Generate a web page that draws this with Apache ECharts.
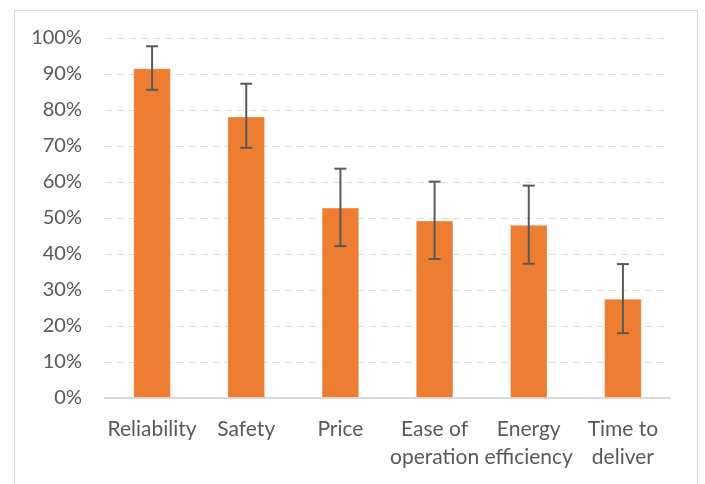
<!DOCTYPE html>
<html>
<head>
<meta charset="utf-8">
<script src="https://cdn.jsdelivr.net/npm/echarts@6/dist/echarts.min.js"></script>
<style>
html,body{margin:0;padding:0;background:#fff;}
#frame{position:absolute;left:14px;top:10px;width:684px;height:490px;border:1px solid #d9d9d9;box-sizing:border-box;}
#chart{position:absolute;left:0;top:0;width:705px;height:484px;}
</style>
</head>
<body>
<div id="frame"></div>
<div id="chart"></div>
<script>
const categories = ['Reliability', 'Safety', 'Price', 'Ease of\noperation', 'Energy\nefficiency', 'Time to\ndeliver'];
const values = [91.6, 78.2, 52.9, 49.3, 48.1, 27.6];
const errLow = [85.6, 69.5, 42.2, 38.6, 37.3, 18.0];
const errHigh = [97.7, 87.3, 63.7, 60.1, 59.0, 37.2];
const yTicks = [0, 10, 20, 30, 40, 50, 60, 70, 80, 90, 100];

const chart = echarts.init(document.getElementById('chart'), null, {renderer: 'canvas'});
const FONT = 'Lato';
chart.setOption({
  animation: false,
  grid: {left: 105, right: 35, top: 38, bottom: 86},
  xAxis: {
    type: 'category',
    data: categories,
    axisLine: {lineStyle: {color: '#d9d9d9', width: 2}},
    axisTick: {show: false},
    axisLabel: {interval: 0, color: '#595959', fontFamily: FONT, fontSize: 21, lineHeight: 28, margin: 17}
  },
  yAxis: {
    type: 'value',
    min: yTicks[0], max: yTicks[yTicks.length - 1], interval: 10,
    axisLine: {show: false},
    axisTick: {show: false},
    splitLine: {lineStyle: {color: '#dedede', type: [7, 5], width: 1}},
    axisLabel: {color: '#595959', fontFamily: FONT, fontSize: 20, margin: 23, formatter: v => v + '%'}
  },
  series: [
    {
      type: 'bar',
      data: values,
      barWidth: '40%',
      itemStyle: {color: '#ED7D31', borderColor: 'rgba(255,255,255,0.35)', borderWidth: 1}
    },
    {
      type: 'custom',
      data: categories.map((c, i) => [i, errLow[i], errHigh[i]]),
      z: 10,
      renderItem: function (params, api) {
        const lo = api.coord([api.value(0), api.value(1)]);
        const hi = api.coord([api.value(0), api.value(2)]);
        const hw = 6;
        const st = {stroke: '#595959', lineWidth: 2};
        return {
          type: 'group',
          children: [
            {type: 'line', shape: {x1: hi[0], y1: hi[1], x2: lo[0], y2: lo[1]}, style: st},
            {type: 'line', shape: {x1: hi[0] - hw, y1: hi[1], x2: hi[0] + hw, y2: hi[1]}, style: st},
            {type: 'line', shape: {x1: lo[0] - hw, y1: lo[1], x2: lo[0] + hw, y2: lo[1]}, style: st}
          ]
        };
      }
    }
  ]
});
</script>
</body>
</html>
